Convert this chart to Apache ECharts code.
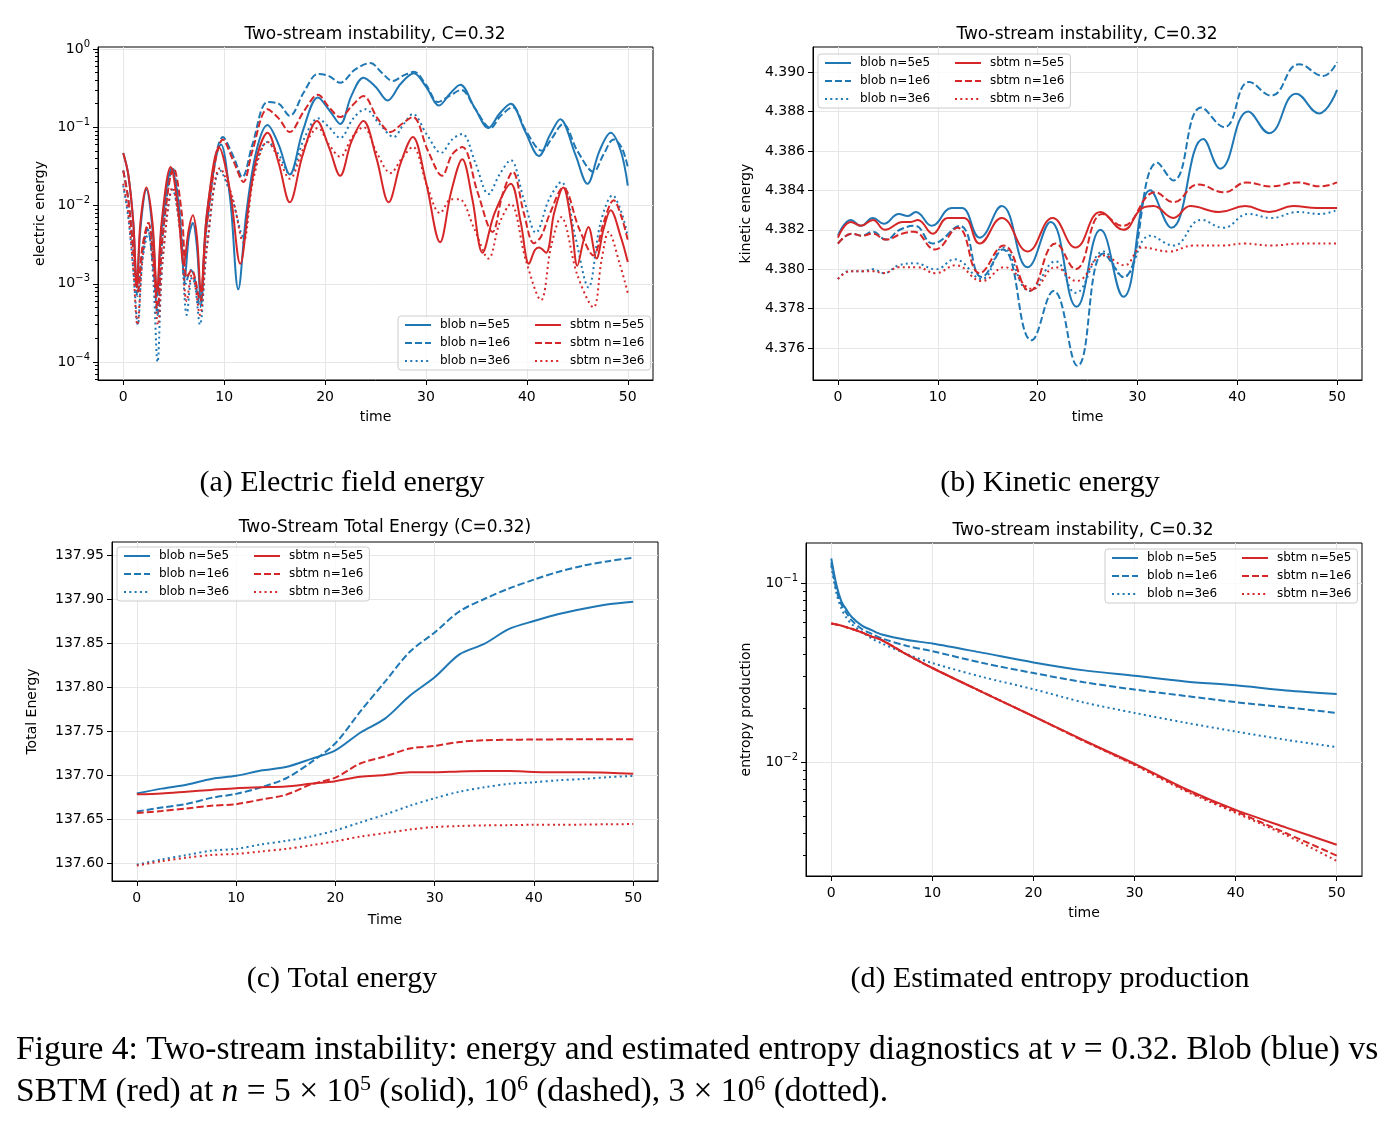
<!DOCTYPE html>
<html>
<head>
<meta charset="utf-8">
<title>Two-stream instability, C=0.32</title>
<script src="https://cdn.jsdelivr.net/npm/echarts@6.0.0/dist/echarts.min.js"></script>
<style>
  html, body { margin: 0; padding: 0; background: #fff; }
  #main { width: 1392px; height: 1122px; }
</style>
</head>
<body>
<div id="main"></div>
<script>
// legend names, shared by all four panels
var seriesNames = ['blob n=5e5', 'blob n=1e6', 'blob n=3e6', 'sbtm n=5e5', 'sbtm n=1e6', 'sbtm n=3e6'];
var timeTicks = [0, 10, 20, 30, 40, 50];

// (a) electric field energy, [time, energy]
var aBlob5e5 = [[0,0.047],[0.5,0.025],[1.0,0.006],[1.35,0.0009],[1.7,0.005],[2.3,0.016],[2.9,0.005],[3.35,0.0007],[3.8,0.005],[4.8,0.03],[5.5,0.01],[6.1,0.0012],[6.5,0.004],[6.9,0.006],[7.3,0.003],[7.7,0.0006],[8.3,0.008],[9.7,0.06],[10.6,0.012],[11.4,0.00085],[12.2,0.008],[13.2,0.05],[14.3,0.107],[15.4,0.06],[16.5,0.025],[17.8,0.09],[19.3,0.24],[20.5,0.16],[21.5,0.11],[22.6,0.25],[23.8,0.43],[25,0.33],[26.2,0.22],[27.5,0.36],[28.8,0.49],[30,0.33],[31.3,0.19],[32.4,0.27],[33.4,0.35],[34.8,0.18],[36.2,0.098],[37.3,0.15],[38.4,0.2],[39.8,0.09],[41.2,0.043],[42.3,0.08],[43.3,0.127],[44.8,0.045],[46,0.019],[47.2,0.05],[48.3,0.085],[49.3,0.05],[50,0.018]];
var aBlob1e6 = [[0,0.028],[0.5,0.012],[1.1,0.002],[1.4,0.0007],[1.8,0.002],[2.4,0.005],[3.0,0.0015],[3.4,0.0004],[3.9,0.004],[4.9,0.03],[5.6,0.008],[6.2,0.001],[6.7,0.0015],[7.0,0.0013],[7.6,0.0005],[8.3,0.006],[9.9,0.075],[11.0,0.04],[11.8,0.023],[12.8,0.06],[14.3,0.21],[15.4,0.2],[16.5,0.14],[17.9,0.28],[19.3,0.48],[20.4,0.45],[21.5,0.37],[23,0.55],[24.5,0.66],[25.6,0.5],[26.7,0.39],[27.8,0.46],[28.8,0.51],[30,0.35],[31.2,0.21],[32.3,0.25],[33.5,0.3],[34.9,0.17],[36.4,0.098],[37.4,0.14],[38.6,0.18],[39.9,0.09],[41.5,0.05],[42.4,0.07],[43.6,0.11],[45,0.05],[46.6,0.027],[47.6,0.045],[48.6,0.07],[49.4,0.055],[50,0.031]];
var aBlob3e6 = [[0,0.018],[0.5,0.007],[1.0,0.0015],[1.45,0.0003],[1.9,0.002],[2.5,0.0045],[3.0,0.001],[3.4,0.0001],[3.9,0.002],[4.9,0.016],[5.7,0.004],[6.3,0.0004],[6.8,0.0012],[7.1,0.001],[7.6,0.0003],[8.3,0.003],[9.6,0.028],[10.8,0.012],[11.9,0.004],[12.9,0.025],[14.3,0.065],[15.4,0.045],[16.5,0.025],[17.9,0.07],[19.3,0.13],[20.4,0.1],[21.5,0.073],[22.8,0.13],[24,0.17],[25.4,0.11],[26.8,0.075],[27.8,0.11],[28.7,0.148],[30.1,0.08],[31.5,0.047],[32.6,0.07],[33.6,0.082],[34.9,0.035],[36.2,0.014],[37.3,0.025],[38.4,0.038],[39.7,0.012],[40.9,0.0045],[42.2,0.012],[43.4,0.02],[44.8,0.004],[46.1,0.0009],[47.3,0.006],[48.5,0.0135],[49.4,0.008],[50,0.004]];
var aSbtm5e5 = [[0,0.047],[0.5,0.025],[1.0,0.006],[1.35,0.0009],[1.7,0.006],[2.3,0.017],[2.9,0.006],[3.35,0.0008],[3.8,0.006],[4.7,0.031],[5.4,0.01],[6.0,0.0018],[6.5,0.005],[6.9,0.0075],[7.3,0.004],[7.7,0.0008],[8.3,0.008],[9.5,0.055],[10.6,0.015],[11.6,0.0018],[12.5,0.012],[13.3,0.045],[14.3,0.085],[15.4,0.035],[16.5,0.011],[17.8,0.045],[19.2,0.12],[20.4,0.055],[21.5,0.024],[22.6,0.065],[23.8,0.12],[25.1,0.04],[26.3,0.011],[27.5,0.035],[28.7,0.075],[30,0.02],[31.4,0.0034],[32.5,0.015],[33.6,0.039],[34.6,0.012],[35.6,0.0025],[36.8,0.008],[38.4,0.019],[39.4,0.006],[40.2,0.0018],[40.8,0.0027],[41.2,0.0029],[41.9,0.0025],[42.7,0.008],[43.6,0.017],[44.4,0.006],[45,0.0017],[45.6,0.0035],[46.1,0.0053],[46.9,0.0021],[47.6,0.005],[48.3,0.0087],[49.3,0.004],[50,0.0019]];
var aSbtm1e6 = [[0,0.028],[0.5,0.012],[1.1,0.002],[1.45,0.0008],[1.9,0.003],[2.5,0.006],[3.0,0.002],[3.4,0.0005],[3.9,0.004],[5.0,0.03],[5.8,0.008],[6.3,0.0012],[6.8,0.0015],[7.1,0.0012],[7.6,0.0006],[8.3,0.006],[9.9,0.07],[11.0,0.035],[11.9,0.02],[12.8,0.05],[14.3,0.17],[15.4,0.13],[16.5,0.087],[17.9,0.16],[19.3,0.26],[20.4,0.18],[21.5,0.135],[22.7,0.19],[23.8,0.25],[25.2,0.13],[26.5,0.087],[27.6,0.11],[28.7,0.135],[30.2,0.05],[31.6,0.024],[32.6,0.045],[33.6,0.056],[35.1,0.015],[36.6,0.0046],[37.6,0.014],[38.6,0.027],[39.7,0.008],[40.7,0.0033],[41.4,0.004],[42.3,0.008],[43.6,0.017],[45.2,0.005],[46.6,0.0023],[47.6,0.006],[48.6,0.0117],[49.4,0.007],[50,0.0036]];
var aSbtm3e6 = [[0,0.019],[0.5,0.008],[1.0,0.0015],[1.4,0.0003],[1.9,0.002],[2.5,0.006],[3.0,0.0015],[3.45,0.0003],[3.9,0.002],[4.9,0.017],[5.7,0.004],[6.3,0.0006],[6.8,0.0013],[7.1,0.001],[7.6,0.0004],[8.3,0.003],[9.6,0.03],[10.8,0.013],[11.9,0.0034],[12.9,0.022],[14.3,0.065],[15.4,0.04],[16.5,0.022],[17.9,0.055],[19.3,0.098],[20.4,0.06],[21.5,0.042],[22.7,0.075],[23.8,0.1],[25.2,0.045],[26.5,0.026],[27.6,0.04],[28.7,0.056],[30.1,0.018],[31.4,0.008],[32.5,0.012],[33.3,0.012],[34.8,0.005],[36.2,0.0021],[37.3,0.006],[38.4,0.0105],[39.9,0.002],[41.4,0.00062],[42.4,0.003],[43.4,0.0071],[45,0.0013],[46.6,0.0005],[47.4,0.002],[48.1,0.0046],[49.2,0.0018],[50,0.00076]];
var aMinorTicks = [6e-5,7e-5,8e-5,9e-5, 2e-4,3e-4,4e-4,5e-4,6e-4,7e-4,8e-4,9e-4, 2e-3,3e-3,4e-3,5e-3,6e-3,7e-3,8e-3,9e-3, 2e-2,3e-2,4e-2,5e-2,6e-2,7e-2,8e-2,9e-2, 0.2,0.3,0.4,0.5,0.6,0.7,0.8,0.9];
var aMajorTicks = [1e-4, 1e-3, 1e-2, 1e-1, 1];

// (b) kinetic energy, [time, energy]
var bBlob5e5 = [[0,4.3817],[1.3,4.3825],[2.3,4.3822],[3.5,4.3826],[4.6,4.3823],[6.1,4.3828],[7,4.3827],[7.8,4.3829],[9.4,4.3822],[11.4,4.3831],[12.4,4.3831],[14.2,4.3816],[16.4,4.3832],[19,4.3801],[21.3,4.3824],[23.9,4.3781],[26.3,4.3820],[28.6,4.3786],[31.3,4.3840],[33.4,4.3821],[36.6,4.3866],[38.3,4.3851],[41.1,4.3880],[43.2,4.3869],[45.9,4.3889],[48.2,4.3879],[50,4.3891]];
var bBlob1e6 = [[0,4.3813],[1.4,4.3818],[2.4,4.3817],[3.5,4.3819],[4.8,4.3815],[6.2,4.3820],[7.7,4.3822],[9.5,4.3813],[12.2,4.3822],[14.4,4.3796],[16.5,4.3810],[19.4,4.3764],[21.6,4.3789],[24,4.3751],[26.6,4.3808],[28.6,4.3796],[32,4.3854],[33.6,4.3845],[36.4,4.3882],[38.7,4.3872],[41.2,4.3895],[43.4,4.3888],[46.2,4.3904],[48.6,4.3898],[50,4.3905]];
var bBlob3e6 = [[0,4.3795],[1.1,4.3799],[2.5,4.3799],[3.5,4.3800],[4.6,4.3798],[6.1,4.3802],[7.7,4.3803],[9.8,4.3800],[11.7,4.3805],[14.4,4.3795],[16.5,4.3811],[19.2,4.3789],[21.8,4.3804],[23.8,4.3788],[26.6,4.3809],[28.6,4.3796],[31.3,4.3817],[33.6,4.3812],[36.4,4.3825],[38.6,4.3821],[41.1,4.3828],[43.4,4.3826],[46.1,4.3829],[48.3,4.3828],[50,4.3830]];
var bSbtm5e5 = [[0,4.3816],[1.3,4.3824],[2.3,4.3822],[3.5,4.3825],[4.7,4.3820],[6.5,4.3824],[7.3,4.3824],[8,4.3825],[9.5,4.3818],[11,4.3826],[12.6,4.3826],[14.2,4.3813],[16.4,4.3826],[19,4.3809],[21.5,4.3826],[23.8,4.3811],[26.3,4.3829],[28.6,4.3820],[30.5,4.3831],[31.6,4.3832],[33.6,4.3826],[35.3,4.3832],[38.2,4.3829],[40.8,4.3832],[43.2,4.3829],[45.6,4.3832],[48,4.3831],[50,4.3831]];
var bSbtm1e6 = [[0,4.3813],[1.4,4.3818],[2.4,4.3817],[3.5,4.3818],[4.8,4.3815],[6.4,4.3818],[7.6,4.3819],[9.7,4.3810],[12,4.3821],[14.2,4.3798],[16.6,4.3812],[19.2,4.3789],[21.8,4.3813],[23.8,4.3800],[26.5,4.3828],[28.5,4.3822],[31.8,4.3839],[33.6,4.3834],[36.1,4.3843],[38.7,4.3839],[40.9,4.3844],[43.4,4.3842],[46,4.3844],[48.4,4.3842],[50,4.3844]];
var bSbtm3e6 = [[0,4.3795],[1.3,4.3799],[2.5,4.3799],[3.5,4.3799],[4.6,4.3798],[6.1,4.3801],[7.9,4.3801],[9.8,4.3798],[11.8,4.3802],[14.4,4.3794],[16.7,4.3801],[19.5,4.3790],[21.8,4.3801],[23.9,4.3794],[26.6,4.3807],[28.7,4.3802],[30.5,4.3811],[33.2,4.3809],[35.6,4.3812],[38.5,4.3812],[40.7,4.3813],[43.4,4.3812],[46.4,4.3813],[50,4.3813]];
var bTicks = [4.376, 4.378, 4.380, 4.382, 4.384, 4.386, 4.388, 4.390];

// (c) total energy, sampled every 2.5
var cTime = [0, 2.5, 5, 7.5, 10, 12.5, 15, 17.5, 20, 22.5, 25, 27.5, 30, 32.5, 35, 37.5, 40, 42.5, 45, 47.5, 50];
var cBlob5e5 = [137.679, 137.6845, 137.689, 137.6955, 137.699, 137.705, 137.709, 137.718, 137.728, 137.748, 137.764, 137.790, 137.811, 137.837, 137.849, 137.866, 137.875, 137.883, 137.889, 137.894, 137.897];
var cBlob1e6 = [137.6585, 137.663, 137.667, 137.674, 137.6785, 137.686, 137.696, 137.714, 137.736, 137.772, 137.806, 137.840, 137.862, 137.886, 137.900, 137.912, 137.922, 137.931, 137.938, 137.943, 137.947];
var cBlob3e6 = [137.598, 137.604, 137.609, 137.614, 137.616, 137.621, 137.625, 137.630, 137.637, 137.646, 137.655, 137.665, 137.6736, 137.681, 137.686, 137.690, 137.6917, 137.694, 137.6955, 137.6975, 137.699];
var cSbtm5e5 = [137.678, 137.679, 137.681, 137.683, 137.685, 137.686, 137.687, 137.690, 137.693, 137.698, 137.700, 137.703, 137.703, 137.704, 137.7045, 137.7045, 137.7035, 137.703, 137.703, 137.7025, 137.7015];
var cSbtm1e6 = [137.6567, 137.659, 137.662, 137.665, 137.6668, 137.672, 137.6774, 137.689, 137.697, 137.713, 137.721, 137.730, 137.733, 137.7375, 137.7395, 137.740, 137.7403, 137.7405, 137.7407, 137.7407, 137.7407];
var cSbtm3e6 = [137.597, 137.602, 137.606, 137.609, 137.6103, 137.613, 137.616, 137.620, 137.6246, 137.630, 137.634, 137.638, 137.6408, 137.642, 137.6427, 137.643, 137.6434, 137.6434, 137.6436, 137.644, 137.6442];
var cTicks = [137.60, 137.65, 137.70, 137.75, 137.80, 137.85, 137.90, 137.95];

// (d) estimated entropy production
var dTime = [0, 0.5, 1, 1.5, 2, 3, 4, 5, 7.5, 10, 15, 20, 25, 30, 35, 40, 45, 50];
var dBlob5e5 = [0.137, 0.098, 0.079, 0.071, 0.0648, 0.058, 0.0545, 0.0515, 0.048, 0.0459, 0.0407, 0.036, 0.0325, 0.0303, 0.0282, 0.0268, 0.0251, 0.024];
var dBlob1e6 = [0.13, 0.092, 0.076, 0.068, 0.062, 0.0555, 0.052, 0.049, 0.0445, 0.0416, 0.0357, 0.0314, 0.0279, 0.0254, 0.0234, 0.0216, 0.0202, 0.0188];
var dBlob3e6 = [0.125, 0.088, 0.072, 0.064, 0.059, 0.0535, 0.049, 0.046, 0.040, 0.0357, 0.0298, 0.0255, 0.0215, 0.0188, 0.0166, 0.0148, 0.0133, 0.0121];
var dSbtm5e5 = [0.0594, 0.0586, 0.0578, 0.0566, 0.0555, 0.053, 0.0502, 0.048, 0.0398, 0.0335, 0.0245, 0.018, 0.0132, 0.0098, 0.0071, 0.0054, 0.0043, 0.00345];
var dSbtm1e6 = [0.0594, 0.0586, 0.0578, 0.0566, 0.0555, 0.053, 0.0502, 0.048, 0.0398, 0.0335, 0.0245, 0.018, 0.0131, 0.0097, 0.0070, 0.0053, 0.0040, 0.0030];
var dSbtm3e6 = [0.0594, 0.0586, 0.0578, 0.0566, 0.0555, 0.053, 0.0502, 0.048, 0.0398, 0.0335, 0.0245, 0.018, 0.0131, 0.0096, 0.0069, 0.0052, 0.0039, 0.0028];
var dMinorTicks = [3e-3,4e-3,5e-3,6e-3,7e-3,8e-3,9e-3, 2e-2,3e-2,4e-2,5e-2,6e-2,7e-2,8e-2,9e-2];
var dMajorTicks = [1e-2, 1e-1];

var FONT = 'DejaVu Sans', SERIF = 'Liberation Serif';
var BLUE = '#1f77b4', RED = '#d62728';
var DASH = [7, 3], DOT = [2, 3.3];

function zip(t, v) {
    return t.map(function (x, i) { return [x, v[i]]; });
}

// 10^k labels for the log axes
function powLabel(v) {
    var e = Math.round(Math.log10(v));
    return '10{sup|' + (e < 0 ? '\u2212' + (-e) : e) + '}';
}
var powRich = { sup: { fontSize: 10, fontFamily: FONT, color: '#000', padding: [0, 0, 10, 0] } };

function timeAxis(gi, name, gap) {
    return {
        type: 'value', gridIndex: gi, min: -2.5, max: 52.5,
        name: name, nameLocation: 'middle', nameGap: gap,
        nameTextStyle: { fontSize: 14, color: '#000', fontFamily: FONT },
        axisLine: { show: true, onZero: false, lineStyle: { color: '#000', width: 1 } },
        axisTick: { show: true, length: 5, lineStyle: { color: '#000' }, customValues: timeTicks },
        axisLabel: { fontSize: 14, color: '#000', fontFamily: FONT, margin: 10, customValues: timeTicks },
        splitLine: { show: true, lineStyle: { color: '#e6e6e6', width: 1 } }
    };
}

function valAxis(gi, type, min, max, ticks, fmt, name, gap) {
    return {
        type: type, gridIndex: gi, min: min, max: max, position: 'left',
        name: name, nameLocation: 'middle', nameGap: gap,
        nameTextStyle: { fontSize: 14, color: '#000', fontFamily: FONT },
        axisLine: { show: true, onZero: false, lineStyle: { color: '#000', width: 1 } },
        axisTick: { show: true, length: 5, lineStyle: { color: '#000' }, customValues: ticks },
        axisLabel: { fontSize: 14, color: '#000', fontFamily: FONT, margin: 8, customValues: ticks, formatter: fmt, rich: powRich },
        splitLine: { show: true, lineStyle: { color: '#e6e6e6', width: 1 } }
    };
}

// short ticks only, for the log decades
function minorAxis(gi, min, max, ticks) {
    return {
        type: 'log', gridIndex: gi, min: min, max: max, position: 'left',
        axisLine: { show: false, onZero: false },
        axisTick: { show: true, length: 3, lineStyle: { color: '#000' }, customValues: ticks },
        axisLabel: { show: false },
        splitLine: { show: false }
    };
}

function line(name, data, gi, yi, color, dash, smooth) {
    return {
        name: name, type: 'line', xAxisIndex: gi, yAxisIndex: yi, data: data,
        symbol: 'none', smooth: smooth, silent: true,
        lineStyle: { color: color, width: 2, type: dash },
        itemStyle: { color: color },
        emphasis: { disabled: true }
    };
}

function panelSeries(sets, gi, yi, smooth) {
    var styles = [[BLUE, 'solid'], [BLUE, DASH], [BLUE, DOT], [RED, 'solid'], [RED, DASH], [RED, DOT]];
    return sets.map(function (d, i) {
        return line(seriesNames[i], d, gi, yi, styles[i][0], styles[i][1], smooth);
    });
}

function makeLegend(left, top) {
    return {
        left: left, top: top, orient: 'vertical', height: 54,
        data: seriesNames, selectedMode: false,
        itemWidth: 26, itemHeight: 14, itemGap: 4,
        padding: [2, 6, 2, 6],
        backgroundColor: 'rgba(255,255,255,0.8)', borderColor: '#cccccc', borderWidth: 1, borderRadius: 3,
        itemStyle: { opacity: 0 },
        formatter: function (name) {
            return name.indexOf('blob') === 0 ? '{c1|' + name + '}' : '{c2|' + name + '}';
        },
        textStyle: {
            fontSize: 12, fontFamily: FONT, color: '#000', lineHeight: 14,
            rich: {
                c1: { fontSize: 12, fontFamily: FONT, color: '#000', lineHeight: 14, width: 90, padding: [0, 0, 0, 4] },
                c2: { fontSize: 12, fontFamily: FONT, color: '#000', lineHeight: 14, padding: [0, 0, 0, 4] }
            }
        }
    };
}

function label(x, y, text, size, family, align) {
    return {
        type: 'text', x: x, y: y, silent: true,
        style: { text: text, fontSize: size, fontFamily: family, fill: '#000', align: align || 'center', verticalAlign: 'middle' }
    };
}

var CAP = 33.5;
var capRich = {
    i: { fontSize: CAP, fontFamily: SERIF, fontStyle: 'italic', fill: '#000' },
    s: { fontSize: 22, fontFamily: SERIF, fill: '#000', padding: [0, 0, 15, 0] }
};

var chart = echarts.init(document.getElementById('main'));
var fixed = function (n) { return function (v) { return v.toFixed(n); }; };

var option = {
    animation: false,
    backgroundColor: '#fff',
    grid: [
        { left: 98, top: 47, width: 555, height: 333, show: true, borderColor: '#000', borderWidth: 1, backgroundColor: 'transparent' },
        { left: 813, top: 47, width: 549, height: 333, show: true, borderColor: '#000', borderWidth: 1, backgroundColor: 'transparent' },
        { left: 112, top: 542, width: 546, height: 339, show: true, borderColor: '#000', borderWidth: 1, backgroundColor: 'transparent' },
        { left: 806, top: 543, width: 556, height: 333, show: true, borderColor: '#000', borderWidth: 1, backgroundColor: 'transparent' }
    ],
    xAxis: [
        timeAxis(0, 'time', 30),
        timeAxis(1, 'time', 30),
        timeAxis(2, 'Time', 32),
        timeAxis(3, 'time', 30)
    ],
    yAxis: [
        valAxis(0, 'log', 5.9e-5, 1.06, aMajorTicks, powLabel, 'electric energy', 51),
        minorAxis(0, 5.9e-5, 1.06, aMinorTicks),
        valAxis(1, 'value', 4.37438, 4.39127, bTicks, fixed(3), 'kinetic energy', 60),
        valAxis(2, 'value', 137.5795, 137.9648, cTicks, fixed(2), 'Total Energy', 73),
        valAxis(3, 'log', 0.002307, 0.1673, dMajorTicks, powLabel, 'entropy production', 53),
        minorAxis(3, 0.002307, 0.1673, dMinorTicks)
    ],
    legend: [
        makeLegend(398, 316),
        makeLegend(818, 54),
        makeLegend(117, 547),
        makeLegend(1105, 549)
    ],
    series: [].concat(
        panelSeries([aBlob5e5, aBlob1e6, aBlob3e6, aSbtm5e5, aSbtm1e6, aSbtm3e6], 0, 0, 0.35),
        panelSeries([bBlob5e5, bBlob1e6, bBlob3e6, bSbtm5e5, bSbtm1e6, bSbtm3e6], 1, 2, 0.45),
        panelSeries([cBlob5e5, cBlob1e6, cBlob3e6, cSbtm5e5, cSbtm1e6, cSbtm3e6].map(function (v) { return zip(cTime, v); }), 2, 3, 0.3),
        panelSeries([dBlob5e5, dBlob1e6, dBlob3e6, dSbtm5e5, dSbtm1e6, dSbtm3e6].map(function (v) { return zip(dTime, v); }), 3, 4, 0.3)
    ),
    graphic: [
        // panel titles
        label(375, 35, 'Two-stream instability, C=0.32', 17, FONT),
        label(1087, 35, 'Two-stream instability, C=0.32', 17, FONT),
        label(385, 528, 'Two-Stream Total Energy (C=0.32)', 17, FONT),
        label(1083, 531, 'Two-stream instability, C=0.32', 17, FONT),
        // sub captions
        label(342, 483, '(a) Electric field energy', 30, SERIF),
        label(1050, 483, '(b) Kinetic energy', 30, SERIF),
        label(342, 979, '(c) Total energy', 30, SERIF),
        label(1050, 979, '(d) Estimated entropy production', 30, SERIF),
        // figure caption
        {
            type: 'text', x: 16, y: 1050, silent: true,
            style: {
                text: 'Figure 4: Two-stream instability: energy and estimated entropy diagnostics at {i|\u03bd} = 0.32. Blob (blue) vs',
                fontSize: CAP, fontFamily: SERIF, fill: '#000', align: 'left', verticalAlign: 'middle', rich: capRich
            }
        },
        {
            type: 'text', x: 16, y: 1092, silent: true,
            style: {
                text: 'SBTM (red) at {i|n} = 5 \u00d7 10{s|5} (solid), 10{s|6} (dashed), 3 \u00d7 10{s|6} (dotted).',
                fontSize: CAP, fontFamily: SERIF, fill: '#000', align: 'left', verticalAlign: 'middle', rich: capRich
            }
        }
    ]
};

chart.setOption(option);
</script>
</body>
</html>
